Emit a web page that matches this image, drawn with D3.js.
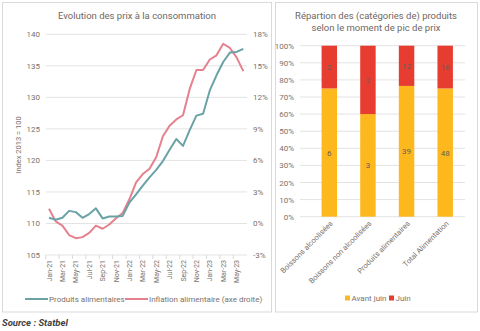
<!DOCTYPE html>
<html>
<head>
<meta charset="utf-8">
<script src="https://cdn.jsdelivr.net/npm/d3@7"></script>
<style>
  body { margin: 0; background: #fff; }
  svg { display: block; font-family: Roboto, "Liberation Sans", sans-serif; }
  .grid line { stroke: #e3e3e3; stroke-width: 1; }
  .lbl { fill: #7a716c; }
</style>
</head>
<body>
<div id="chart"></div>
<script>
'use strict';

// ---- data ----
const months = ['Jan-21','Feb-21','Mar-21','Apr-21','May-21','Jun-21','Jul-21','Aug-21','Sep-21','Oct-21','Nov-21','Dec-21',
                'Jan-22','Feb-22','Mar-22','Apr-22','May-22','Jun-22','Jul-22','Aug-22','Sep-22','Oct-22','Nov-22','Dec-22',
                'Jan-23','Feb-23','Mar-23','Apr-23','May-23','Jun-23'];
const produitsIndex = [110.9,110.6,110.9,112.0,111.8,110.9,111.5,112.4,110.8,111.1,111.1,111.2,
                       113.3,114.6,116.0,117.3,118.5,119.9,121.7,123.4,122.3,124.8,127.1,127.4,
                       131.1,133.5,135.6,137.1,137.2,137.7];
const inflationPct = [1.4,0.2,-0.2,-1.1,-1.4,-1.3,-0.9,-0.2,-0.5,-0.1,0.5,1.0,
                      2.3,3.9,4.7,5.2,6.3,8.3,9.3,9.9,10.3,12.8,14.6,14.6,
                      15.6,16.0,17.1,16.7,15.8,14.5];
const leftTicks = [105,110,115,120,125,130,135,140];
const rightTicks = [-3,0,3,6,9,12,15,18];

const categories = ['Boissons alcoolisées','Boissons non alcoolisées','Produits alimentaires','Total Alimentation'];
const avantJuin = [6,3,39,48];
const juin = [2,2,12,16];
const pctTicks = [0,10,20,30,40,50,60,70,80,90,100];

const colTeal = '#6aa2a6', colPink = '#e5808f', colYellow = '#fdb81e', colRed = '#e63d30';

const W = 480, H = 331;
const svg = d3.select('#chart').append('svg').attr('width', W).attr('height', H);

// panels
svg.append('rect').attr('x', 2.5).attr('y', 2.5).attr('width', 269).attr('height', 309.5)
   .attr('fill', '#fff').attr('stroke', '#d9d9d9');
svg.append('rect').attr('x', 275.5).attr('y', 2.5).attr('width', 202).attr('height', 309.5)
   .attr('fill', '#fff').attr('stroke', '#d9d9d9');

// ---- left: line chart ----
const x = d3.scalePoint().domain(months).range([49, 243.3]);
const yL = d3.scaleLinear().domain([105, 140]).range([255, 34.3]);
const yR = d3.scaleLinear().domain([-3, 18]).range([255, 34.3]);
const step = x.step();

const left = svg.append('g');
left.append('text').attr('x', 137).attr('y', 19).attr('text-anchor', 'middle')
    .attr('font-size', 9.5).attr('fill', '#6f6661').text('Evolution des prix à la consommation');

left.append('g').attr('class', 'grid').selectAll('line').data(leftTicks).enter().append('line')
    .attr('x1', 46).attr('x2', 247).attr('y1', d => yL(d)).attr('y2', d => yL(d));

left.append('g').selectAll('text').data(leftTicks).enter().append('text').attr('class', 'lbl')
    .attr('x', 40).attr('y', d => yL(d) + 3).attr('text-anchor', 'end').attr('font-size', 8)
    .text(d => d);

left.append('g').selectAll('text').data(rightTicks).enter().append('text').attr('class', 'lbl')
    .attr('x', 253).attr('y', d => yR(d) + 3).attr('font-size', 8)
    .text(d => d + '%');

left.append('text').attr('class', 'lbl').attr('font-size', 7.5).attr('text-anchor', 'middle')
    .attr('transform', 'translate(21,145) rotate(-90)').text('Index 2013 = 100');

// x ticks every 2 months
const xTickPos = months.filter((d, i) => i % 2 === 0);
left.append('g').selectAll('line').data(xTickPos).enter().append('line')
    .attr('x1', d => x(d) - step / 2).attr('x2', d => x(d) - step / 2)
    .attr('y1', 255).attr('y2', 259).attr('stroke', '#d9d9d9');
left.append('g').selectAll('text').data(xTickPos).enter().append('text').attr('class', 'lbl')
    .attr('font-size', 7).attr('text-anchor', 'end')
    .attr('transform', d => 'translate(' + (x(d) + 2.5) + ',260) rotate(-90)')
    .text(d => d);

const lineL = d3.line().x((d, i) => x(months[i])).y(d => yL(d));
const lineR = d3.line().x((d, i) => x(months[i])).y(d => yR(d));
left.append('path').datum(inflationPct).attr('d', lineR).attr('fill', 'none')
    .attr('stroke', colPink).attr('stroke-width', 2).attr('stroke-linejoin', 'round');
left.append('path').datum(produitsIndex).attr('d', lineL).attr('fill', 'none')
    .attr('stroke', colTeal).attr('stroke-width', 2).attr('stroke-linejoin', 'round');

// legend
const legL = [{ t: 'Produits alimentaires', c: colTeal, x: 25 }, { t: 'Inflation alimentaire (axe droite)', c: colPink, x: 125 }];
const lg = left.append('g').selectAll('g').data(legL).enter().append('g');
lg.append('line').attr('x1', d => d.x).attr('x2', d => d.x + 23).attr('y1', 299).attr('y2', 299)
  .attr('stroke', d => d.c).attr('stroke-width', 2);
lg.append('text').attr('class', 'lbl').attr('x', d => d.x + 24).attr('y', 302).attr('font-size', 8)
  .text(d => d.t);

// ---- right: stacked bar ----
const right = svg.append('g');
right.append('text').attr('text-anchor', 'middle').attr('font-size', 9.5).attr('fill', '#6f6661')
     .selectAll('tspan').data(['Répartion des (catégories de) produits', 'selon le moment de pic de prix'])
     .enter().append('tspan').attr('x', 376).attr('y', (d, i) => 19 + i * 12).text(d => d);

const xb = d3.scaleBand().domain(categories).range([310, 464.5]).paddingInner(0.6).paddingOuter(0.3);
const yb = d3.scaleLinear().domain([0, 100]).range([216.7, 45.7]);

right.append('g').attr('class', 'grid').selectAll('line').data(pctTicks).enter().append('line')
     .attr('x1', 300).attr('x2', 465).attr('y1', d => yb(d)).attr('y2', d => yb(d));
right.append('g').selectAll('text').data(pctTicks).enter().append('text').attr('class', 'lbl')
     .attr('x', 294).attr('y', d => yb(d) + 3).attr('text-anchor', 'end').attr('font-size', 8)
     .text(d => d + '%');

const stackData = categories.map((c, i) => ({ cat: c, avant: avantJuin[i], juin: juin[i] }));
const stacked = d3.stack().keys(['avant', 'juin']).offset(d3.stackOffsetExpand)(stackData);
const bcol = { avant: colYellow, juin: colRed };

const layers = right.append('g').selectAll('g').data(stacked).enter().append('g')
     .attr('fill', d => bcol[d.key]);
layers.selectAll('rect').data(d => d).enter().append('rect')
     .attr('x', d => xb(d.data.cat)).attr('width', xb.bandwidth())
     .attr('y', d => yb(d[1] * 100)).attr('height', d => yb(d[0] * 100) - yb(d[1] * 100));

stacked.forEach(layer => {
  right.append('g').selectAll('text').data(layer).enter().append('text')
       .attr('x', d => xb(d.data.cat) + xb.bandwidth() / 2)
       .attr('y', d => yb((d[0] + d[1]) * 50) + 3)
       .attr('text-anchor', 'middle').attr('font-size', 8).attr('fill', '#6b5e58')
       .text(d => d.data[layer.key]);
});

right.append('g').selectAll('text').data(categories).enter().append('text').attr('class', 'lbl')
     .attr('font-size', 7.5).attr('text-anchor', 'end')
     .attr('transform', d => 'translate(' + (xb(d) + xb.bandwidth() / 2 + 4) + ',224) rotate(-45)')
     .text(d => d);

const legB = [{ t: 'Avant juin', c: colYellow, x: 345 }, { t: 'Juin', c: colRed, x: 389 }];
const lb = right.append('g').selectAll('g').data(legB).enter().append('g');
lb.append('rect').attr('x', d => d.x).attr('y', 295.5).attr('width', 5).attr('height', 5).attr('fill', d => d.c);
lb.append('text').attr('class', 'lbl').attr('x', d => d.x + 6.5).attr('y', 301).attr('font-size', 8)
  .text(d => d.t);

// source
svg.append('text').attr('x', 2).attr('y', 326).attr('font-size', 9.5).attr('font-style', 'italic')
   .attr('font-weight', 'bold').attr('fill', '#3f3f3f').text('Source : Statbel');
</script>
</body>
</html>
